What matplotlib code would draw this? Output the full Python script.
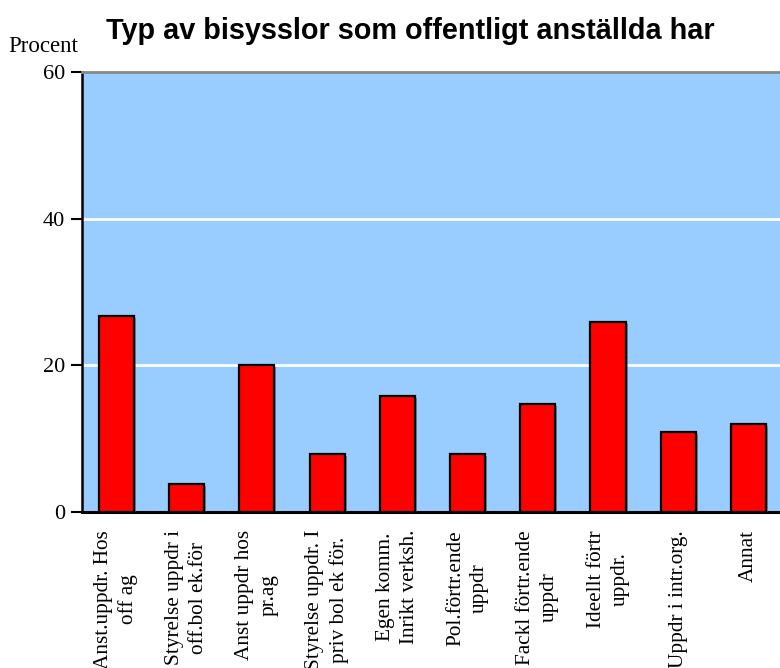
import matplotlib
matplotlib.use('Agg')
import matplotlib.pyplot as plt
import matplotlib.patheffects as pe

# Andel (procent) per typ av bisyssla
categories = [
    'Anst.uppdr. Hos\noff ag',
    'Styrelse uppdr i\noff.bol ek.för',
    'Anst uppdr hos\npr.ag',
    'Styrelse uppdr. I\npriv bol ek för.',
    'Egen komm.\nInrikt verksh.',
    'Pol.förtr.ende\nuppdr',
    'Fackl förtr.ende\nuppdr',
    'Ideellt förtr\nuppdr.',
    'Uppdr i intr.org.',
    'Annat',
]
values = [26.7, 3.8, 20.0, 7.9, 15.8, 7.9, 14.7, 25.9, 10.9, 12.0]
yticks = [0, 20, 40, 60]

serif = 'Liberation Serif'

fig = plt.figure(figsize=(7.8, 6.68), dpi=100)
ax = fig.add_axes([82 / 780, 156 / 668, 1 - 82 / 780, 440 / 668])
ax.set_facecolor('#99ccff')

x = list(range(len(categories)))
bars = ax.bar(x, values, width=0.5, color='#ff0000', edgecolor='black',
              linewidth=1.6, zorder=3)
for b in bars:
    b.set_path_effects([pe.SimplePatchShadow(offset=(1.5, -1.5), shadow_rgbFace='#555555', alpha=0.6),
                        pe.Normal()])

for y in [20, 40]:
    ax.axhline(y, color='white', linewidth=2.0, zorder=1)

ax.set_xlim(-0.49, 9.45)
ax.set_ylim(0, 60)
ax.set_yticks(yticks)
ax.set_yticklabels([str(t) for t in yticks], fontfamily=serif, fontsize=16)
ax.tick_params(axis='y', direction='out', length=8, width=1.5, color='black', pad=4)
ax.set_xticks(x)
ax.set_xticklabels(categories, rotation=90, fontfamily=serif, fontsize=15.3,
                   ha='center', va='top', multialignment='center', linespacing=1.35)
ax.tick_params(axis='x', length=0, pad=13)

ax.spines['left'].set_linewidth(1.8)
ax.spines['bottom'].set_linewidth(2.2)
ax.spines['top'].set_color('#888888')
ax.spines['top'].set_linewidth(2.0)
ax.spines['right'].set_visible(False)

fig.text(8 / 780, 1 - 47 / 668, 'Procent', fontfamily=serif, fontsize=16.5,
         ha='left', va='center')
fig.text(410 / 780, 1 - 31 / 668, 'Typ av bisysslor som offentligt anställda har',
         fontfamily='Liberation Sans', fontweight='bold', fontsize=20.8,
         ha='center', va='center')

fig.savefig('out.png', dpi=100)
